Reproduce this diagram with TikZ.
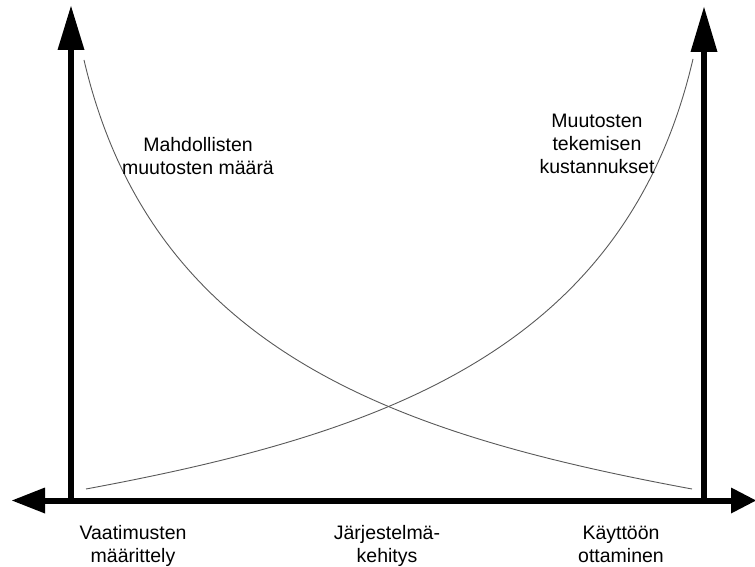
\documentclass[tikz,border=0pt]{standalone}
\usepackage{fontspec}
\setmainfont{Liberation Sans}
\begin{document}
\begin{tikzpicture}[x=1pt,y=-1pt,
  axis/.style={line width=6pt},
  head/.style={fill=black},
  curve/.style={line width=0.9pt, draw=black!65},
  lbl/.style={font=\fontsize{19.5}{23}\selectfont, align=center, inner sep=0pt, anchor=base}]
\useasboundingbox (0,0) rectangle (755,567);
% axes
\coordinate (LB) at (71,503.5);
\coordinate (LT) at (71,49);
\coordinate (RB) at (704,503.5);
\coordinate (RT) at (704,51);
\coordinate (HL) at (44,500.5);
\coordinate (HR) at (732,500.5);
\draw[axis] (LB) -- (LT);
\draw[axis] (RB) -- (RT);
\draw[axis] (HL) -- (HR);
\fill[head] (71,6) -- (84.5,50) -- (57.5,50) -- cycle;
\fill[head] (704,7) -- (717.5,52) -- (690.5,52) -- cycle;
\fill[head] (12,500.5) -- (45,487.5) -- (45,513.5) -- cycle;
\fill[head] (756,500.5) -- (731,487.5) -- (731,513.5) -- cycle;
% curves
\coordinate (D0) at (84,60);
\coordinate (D1) at (692,489);
\coordinate (I0) at (86,489);
\coordinate (I1) at (693,59);
\draw[curve] (D0) .. controls (152.4,352.2) and (397.1,434.4) .. (D1);
\draw[curve] (I1) .. controls (624.6,352.2) and (379.9,434.4) .. (I0);
% labels (anchor base = baseline of last line)
\node[lbl] (m) at (198,175) {Mahdollisten\\muutosten määrä};
\node[lbl] (k) at (597,173) {Muutosten\\tekemisen\\kustannukset};
\node[lbl] (v) at (133,562) {Vaatimusten\\määrittely};
\node[lbl] (j) at (387,562) {Järjestelmä-\\kehitys};
\node[lbl] (o) at (621,562) {Käyttöön\\ottaminen};
\end{tikzpicture}
\end{document}
